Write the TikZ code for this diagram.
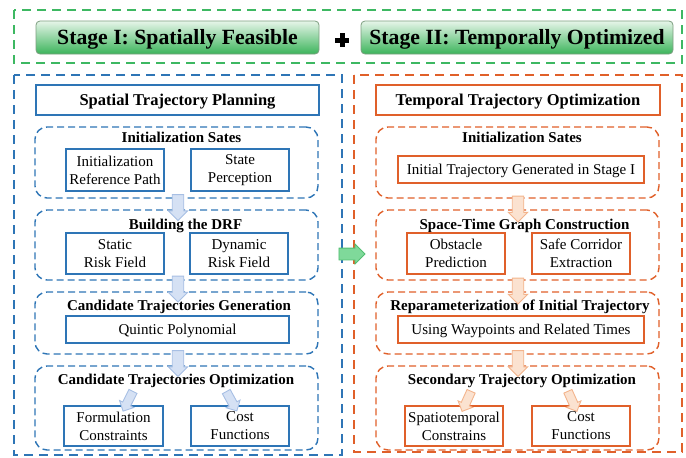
\documentclass[tikz,border=0pt]{standalone}
\usepackage{fontspec}
\setmainfont{Liberation Serif}
\usetikzlibrary{shapes.arrows,calc}
\definecolor{cgreen}{HTML}{3DB862}
\definecolor{cblue}{HTML}{2E75B6}
\definecolor{corange}{HTML}{E0602A}
\definecolor{btntop}{HTML}{E6F5E9}
\definecolor{btnbot}{HTML}{3CB45B}
\definecolor{btnedge}{HTML}{7D9E80}
\definecolor{barfill}{HTML}{D5E1F4}
\definecolor{bardraw}{HTML}{A7BFE4}
\definecolor{oarfill}{HTML}{FBE2D0}
\definecolor{oardraw}{HTML}{F3B48C}
\definecolor{garfill}{HTML}{7FD99A}
\definecolor{gardraw}{HTML}{52BE72}
\tikzset{
  outerdash/.style={dash pattern=on 9pt off 6pt, line width=2pt},
  groupdash/.style={draw, dash pattern=on 7pt off 4pt, line width=1.4pt, rounded corners=12pt, minimum width=283pt, inner sep=0pt},
  bgroup/.style={groupdash, draw=cblue},
  ogroup/.style={groupdash, draw=corange},
  stagebtn/.style={draw=btnedge, line width=0.8pt, rounded corners=4pt, top color=btntop, bottom color=btnbot, minimum height=33pt, inner sep=0pt, font=\bfseries\fontsize{21.7}{24}\selectfont, text height=14.3pt, text depth=0pt},
  mtitle/.style={draw, line width=1.8pt, minimum width=283pt, minimum height=30pt, inner sep=0pt, font=\bfseries\fontsize{16.5}{19}\selectfont, text height=11pt, text depth=0pt},
  gtitle/.style={anchor=base, inner sep=0pt, font=\bfseries\fontsize{15}{18}\selectfont},
  ibox/.style={draw, line width=1.3pt, align=center, inner sep=0pt, font=\fontsize{15}{18}\selectfont},
  ibox1/.style={ibox, text height=10pt, text depth=0pt},
  blockarr/.style={single arrow, draw, line width=0.9pt, inner xsep=0pt},
  varr/.style={blockarr, minimum height=26pt, inner ysep=5.3pt, single arrow head extend=4pt},
  darr/.style={blockarr, minimum height=22pt, inner ysep=4pt, single arrow head extend=3.5pt},
  barr/.style={draw=bardraw, fill=barfill},
  oarr/.style={draw=oardraw, fill=oarfill},
}
\begin{document}
\begin{tikzpicture}[x=1pt,y=-1pt]
\useasboundingbox (0,0) rectangle (686,458);
% top stage band
\draw[cgreen, outerdash] (14,10) rectangle (682,63);
\node[stagebtn, minimum width=283pt] (s1) at (177.5,37.5) {Stage I: Spatially Feasible};
\node[stagebtn, minimum width=312pt] (s2) at (517,37.5) {Stage II: Temporally Optimized};
\fill[black] (335,37.5) rectangle (349,42.5);
\fill[black] (339.5,33) rectangle (344.5,47);
% outer frames
\draw[cblue, outerdash] (14,75) rectangle (342,455);
\draw[corange, outerdash] (354,75) rectangle (682,452);

% ---------- left panel ----------
\node[mtitle, draw=cblue] (lt) at (177.5,100) {Spatial Trajectory Planning};

\node[bgroup, minimum height=71pt] (lg1) at (176.5,162.5) {};
\node[gtitle] (lg1t) at (181.5,142) {Initialization Sates};
\node[ibox, draw=cblue, minimum width=98pt, minimum height=42pt] (lb1) at (115,170) {Initialization\\Reference Path};
\node[ibox, draw=cblue, minimum width=98pt, minimum height=42pt] (lb2) at (240,170) {State\\Perception};

\node[bgroup, minimum height=70pt] (lg2) at (176.5,245) {};
\node[gtitle] (lg2t) at (185.5,229) {Building the DRF};
\node[ibox, draw=cblue, minimum width=98pt, minimum height=41pt] (lb3) at (115,253.5) {Static\\Risk Field};
\node[ibox, draw=cblue, minimum width=98pt, minimum height=41pt] (lb4) at (239,253.5) {Dynamic\\Risk Field};

\node[bgroup, minimum height=62pt] (lg3) at (176.5,323) {};
\node[gtitle] (lg3t) at (179,310) {Candidate Trajectories Generation};
\node[ibox1, draw=cblue, minimum width=223pt, minimum height=27pt] (lb5) at (177.5,329.5) {Quintic Polynomial};

\node[bgroup, minimum height=84pt] (lg4) at (176.5,408) {};
\node[gtitle] (lg4t) at (176,384) {Candidate Trajectories Optimization};
\node[ibox, draw=cblue, minimum width=99pt, minimum height=40pt] (lb6) at (113.5,426) {Formulation\\Constraints};
\node[ibox, draw=cblue, minimum width=98pt, minimum height=40pt] (lb7) at (240,426) {Cost\\Functions};

\node[varr, barr, rotate=-90] (la1) at ($(lg1.south)+(1.5,6)$) {};
\node[varr, barr, rotate=-90] (la2) at ($(lg2.south)+(1.5,5.5)$) {};
\node[varr, barr, rotate=-90] (la3) at ($(lg3.south)+(1.5,6)$) {};
\node[darr, barr, rotate=-116.6] (la4) at ($(lg4.north)+(-47.5,34)$) {};
\node[darr, barr, rotate=-61.2] (la5) at ($(lg4.north)+(54,34)$) {};

% ---------- right panel ----------
\node[mtitle, draw=corange, minimum width=284pt] (rt) at (518,100) {Temporal Trajectory Optimization};

\node[ogroup, minimum height=71pt] (rg1) at (517.5,162.5) {};
\node[gtitle] (rg1t) at (522,142) {Initialization Sates};
\node[ibox1, draw=corange, minimum width=246pt, minimum height=27pt] (rb1) at (521,169.5) {Initial Trajectory Generated in Stage I};

\node[ogroup, minimum height=70pt] (rg2) at (517.5,245) {};
\node[gtitle] (rg2t) at (524.5,229.5) {Space-Time Graph Construction};
\node[ibox, draw=corange, minimum width=98pt, minimum height=41pt] (rb2) at (456,253.5) {Obstacle\\Prediction};
\node[ibox, draw=corange, minimum width=98pt, minimum height=41pt] (rb3) at (581,253.5) {Safe Corridor\\Extraction};

\node[ogroup, minimum height=62pt] (rg3) at (517.5,323) {};
\node[gtitle] (rg3t) at (520,310) {Reparameterization of Initial Trajectory};
\node[ibox1, draw=corange, minimum width=246pt, minimum height=27pt] (rb4) at (521,329.5) {Using Waypoints and Related Times};

\node[ogroup, minimum height=84pt] (rg4) at (517.5,408) {};
\node[gtitle] (rg4t) at (522,384) {Secondary Trajectory Optimization};
\node[ibox, draw=corange, minimum width=98pt, minimum height=40pt] (rb5) at (454,426) {Spatiotemporal\\Constrains};
\node[ibox, draw=corange, minimum width=98pt, minimum height=40pt] (rb6) at (581,426) {Cost\\Functions};

\node[varr, oarr, rotate=-90] (ra1) at ($(rg1.south)+(0.5,7.5)$) {};
\node[varr, oarr, rotate=-90] (ra2) at ($(rg2.south)+(0.5,7.5)$) {};
\node[varr, oarr, rotate=-90] (ra3) at ($(rg3.south)+(0.5,6)$) {};
\node[darr, oarr, rotate=-114.2] (ra4) at ($(rg4.north)+(-50,34)$) {};
\node[darr, oarr, rotate=-65.8] (ra5) at ($(rg4.north)+(54,34)$) {};

% stage link arrow
\node[blockarr, draw=gardraw, fill=garfill, minimum height=26pt, inner ysep=5.5pt, single arrow head extend=4pt] (ga) at (349,254) {};
\end{tikzpicture}
\end{document}
